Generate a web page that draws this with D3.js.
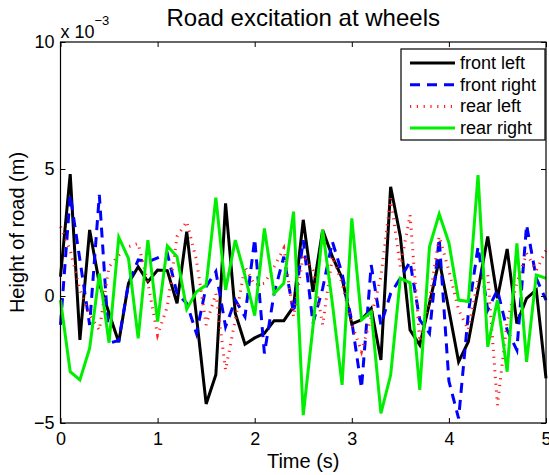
<!DOCTYPE html>
<html>
<head>
<meta charset="utf-8">
<script src="https://cdn.jsdelivr.net/npm/d3@7"></script>
<style type="text/css">
	body {
		margin: 0;
		background-color: #ffffff;
	}
	svg text {
		font-family: "Liberation Sans", Arial, Helvetica, sans-serif;
		fill: #000;
	}
</style>
</head>
<body>
<svg id="chart" width="549" height="475"></svg>
<script type="text/javascript">

	// sample times, 0 : 0.1 : 5 s
	var tiempos = [0,0.1,0.2,0.3,0.4,0.5,0.6,0.7,0.8,0.9,1,1.1,1.2,1.3,1.4,1.5,1.6,1.7,1.8,1.9,2,
		2.1,2.2,2.3,2.4,2.5,2.6,2.7,2.8,2.9,3,3.1,3.2,3.3,3.4,3.5,3.6,3.7,3.8,3.9,4,
		4.1,4.2,4.3,4.4,4.5,4.6,4.7,4.8,4.9,5];

	// road height in units of 1e-3 m
	var frontLeft = [0.76,4.8,-1.73,2.6,0.5,-0.68,-1.82,0.5,1.15,0.56,1.02,
		1.0,-0.29,2.53,-0.8,-4.25,-3.1,3.65,-0.68,-1.9,-1.65,
		-1.47,-0.97,-0.97,-0.42,3.0,0.17,2.6,1.55,0.7,-1.1,
		-0.94,-0.49,-2.52,4.3,2.34,-1.34,-1.93,-0.29,1.42,-0.55,
		-2.59,-1.8,0.24,2.34,-0.09,1.85,-1.08,-0.09,0.24,-3.24];

	var frontRight = [-1.14,3.98,1.42,-1.14,3.98,-1.86,-1.75,0.5,1.42,1.35,1.5,
		1.68,0.1,-0.29,-1.47,0.37,0.96,-1.21,-0.16,-0.81,2.25,
		-2.26,0.1,1.55,-0.68,2.2,-1.08,0.3,2.14,0.89,-1.0,
		-3.63,1.22,-1.14,0.1,0.7,1.35,-0.94,-1.47,2.27,-3.35,
		-4.82,-0.68,1.94,-0.55,0.24,-1.34,-2.13,2.8,0.7,-0.16];

	var rearLeft = [2.73,1.81,0.24,-0.75,-1.34,1.15,1.61,1.94,2.07,0.5,-1.54,
		-0.42,2.34,2.93,1.42,-1.14,0.1,-2.91,-0.94,1.15,0.43,
		0.5,1.15,1.88,-0.81,1.61,1.02,-1.14,1.55,0.5,-1.1,
		-2.19,-0.81,0.76,3.85,1.15,3.19,-1.8,-0.16,2.34,1.0,
		-0.55,-1.34,0.63,0.83,-4.3,-1.0,0.5,1.68,1.0,1.81];

	var rearRight = [-0.16,-2.98,-3.3,-2.06,0.89,-1.84,2.31,1.48,-1.67,2.2,-1.01,
		1.97,1.55,-0.52,0.17,0.43,3.87,0.24,2.2,0.8,-0.77,
		2.66,0.1,0.5,3.32,-4.69,-1.21,2.6,-0.29,-3.5,3.06,
		-0.94,-0.62,-4.62,-3.11,0.7,0.52,-3.7,1.94,3.23,2.1,
		-0.16,-0.22,4.76,-2.0,-0.16,-2.98,2.07,-2.59,0.83,0.7];

	var nombres = ["front left", "front right", "rear left", "rear right"];
	var xTicks = [0, 1, 2, 3, 4, 5];
	var yTicks = [-5, 0, 5, 10];

	var estilos = [
		{ color: "#000000", dash: null,      width: 3 },
		{ color: "#0000ff", dash: "10,7",    width: 3 },
		{ color: "#ff2020", dash: "1.2,5.6", width: 3 },
		{ color: "#00ee00", dash: null,      width: 3 }
	];

	var series = [frontLeft, frontRight, rearLeft, rearRight];

	var svg = d3.select("#chart");
	var izq = 60.5, der = 546, arriba = 42, abajo = 423;

	var x = d3.scaleLinear().domain([0, 5]).range([izq, der]);
	var y = d3.scaleLinear().domain([-5, 10]).range([abajo, arriba]);

	// lines
	var linea = d3.line()
		.x(function(d, i) { return x(tiempos[i]); })
		.y(function(d) { return y(d); });

	series.forEach(function(s, k) {
		svg.append("path")
			.datum(s)
			.attr("d", linea)
			.style("fill", "none")
			.style("stroke", estilos[k].color)
			.style("stroke-width", estilos[k].width)
			.style("stroke-dasharray", estilos[k].dash)
			.style("stroke-linejoin", "miter")
			.style("stroke-miterlimit", 4);
	});

	// axes: ticks inward on all four sides
	var tk = 5;
	var ejes = svg.append("g");

	ejes.append("g")
		.attr("transform", "translate(0," + abajo + ")")
		.call(d3.axisBottom(x).tickValues(xTicks).tickSizeInner(-tk).tickSizeOuter(0).tickPadding(9).tickFormat(d3.format("d")));
	ejes.append("g")
		.attr("transform", "translate(0," + arriba + ")")
		.call(d3.axisTop(x).tickValues(xTicks).tickSizeInner(-tk).tickSizeOuter(0).tickFormat(""));
	ejes.append("g")
		.attr("transform", "translate(" + izq + ",0)")
		.call(d3.axisLeft(y).tickValues(yTicks).tickSizeInner(-tk).tickSizeOuter(0).tickPadding(6).tickFormat(function(d) { return d < 0 ? "\u2212" + (-d) : d; }));
	ejes.append("g")
		.attr("transform", "translate(" + der + ",0)")
		.call(d3.axisRight(y).tickValues(yTicks).tickSizeInner(-tk).tickSizeOuter(0).tickFormat(""));

	ejes.selectAll(".domain").remove();
	ejes.selectAll(".tick line").style("stroke", "#000").style("stroke-width", 1);
	ejes.selectAll(".tick text")
		.style("font-size", "18px")
		.style("font-family", "'Liberation Sans', Arial, sans-serif");

	svg.append("rect")
		.attr("x", izq).attr("y", arriba)
		.attr("width", der - izq).attr("height", abajo - arriba)
		.style("fill", "none").style("stroke", "#000").style("stroke-width", 1.2);

	// exponent label
	var expo = svg.append("text").attr("x", izq).attr("y", 38).style("font-size", "18px");
	expo.append("tspan").text("x 10");
	expo.append("tspan").attr("dy", -13).style("font-size", "13px").text("\u22123");

	// title and axis labels
	svg.append("text")
		.attr("x", (izq + der) / 2).attr("y", 26)
		.attr("text-anchor", "middle")
		.style("font-size", "24px")
		.text("Road excitation at wheels");

	svg.append("text")
		.attr("x", (izq + der) / 2).attr("y", 468)
		.attr("text-anchor", "middle")
		.style("font-size", "20px")
		.text("Time (s)");

	svg.append("text")
		.attr("transform", "translate(24," + ((arriba + abajo) / 2) + ") rotate(-90)")
		.attr("text-anchor", "middle")
		.style("font-size", "20px")
		.text("Height of road (m)");

	// legend
	var ley = svg.append("g");
	ley.append("rect")
		.attr("x", 401).attr("y", 49)
		.attr("width", 144).attr("height", 91)
		.style("fill", "#fff").style("stroke", "#000").style("stroke-width", 1.2);

	nombres.forEach(function(n, k) {
		var yy = 63 + k * 21.7;
		ley.append("line")
			.attr("x1", 410).attr("x2", 455)
			.attr("y1", yy).attr("y2", yy)
			.style("stroke", estilos[k].color)
			.style("stroke-width", estilos[k].width)
			.style("stroke-dasharray", estilos[k].dash);
		ley.append("text")
			.attr("x", 460).attr("y", yy + 6)
			.style("font-size", "18px")
			.text(n);
	});

</script>
</body>
</html>
